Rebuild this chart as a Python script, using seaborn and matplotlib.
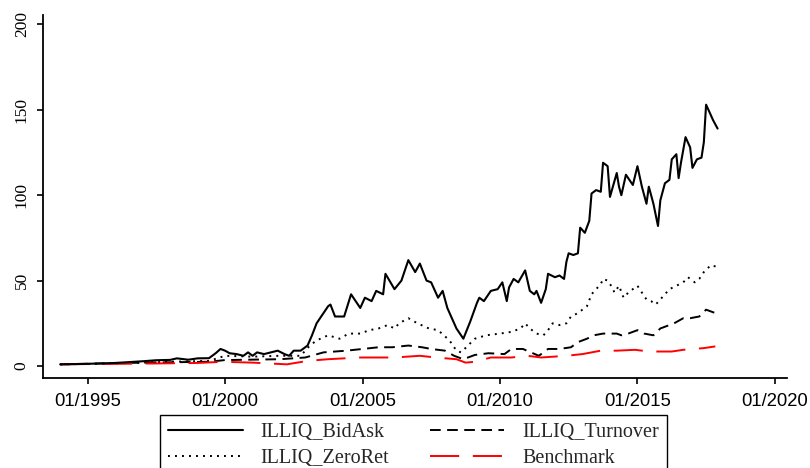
import matplotlib
matplotlib.use("Agg")
import matplotlib.pyplot as plt
import seaborn as sns
import pandas as pd

# ---------------- data ----------------
bidask_dates = ["1994-01", "1995-01", "1996-01", "1997-01", "1997-07", "1998-01", "1998-04",
                "1998-09", "1999-01", "1999-06", "1999-09", "1999-11", "2000-01", "2000-03",
                "2000-06", "2000-09", "2000-11", "2001-01", "2001-03", "2001-06", "2001-09",
                "2001-12", "2002-03", "2002-05", "2002-07", "2002-10", "2003-01", "2003-03",
                "2003-05", "2003-07", "2003-10", "2003-11", "2004-01", "2004-05", "2004-08",
                "2004-12", "2005-02", "2005-05", "2005-07", "2005-10", "2005-11", "2006-03",
                "2006-06", "2006-09", "2006-12", "2007-02", "2007-05", "2007-07", "2007-10",
                "2007-12", "2008-02", "2008-06", "2008-09", "2008-12", "2009-03", "2009-04",
                "2009-06", "2009-09", "2009-12", "2010-02", "2010-04", "2010-05", "2010-07",
                "2010-09", "2010-12", "2011-02", "2011-04", "2011-05", "2011-07", "2011-09",
                "2011-10", "2012-01", "2012-03", "2012-05", "2012-06", "2012-07", "2012-09",
                "2012-11", "2012-12", "2013-02", "2013-04", "2013-05", "2013-07", "2013-09",
                "2013-10", "2013-12", "2014-01", "2014-04", "2014-05", "2014-06", "2014-08",
                "2014-10", "2014-11", "2015-01", "2015-03", "2015-05", "2015-06", "2015-08",
                "2015-10", "2015-11", "2016-01", "2016-03", "2016-04", "2016-06", "2016-07",
                "2016-08", "2016-10", "2016-12", "2017-01", "2017-03", "2017-05", "2017-06",
                "2017-07", "2017-09", "2017-10", "2017-12"]
bidask_vals = [1.0, 1.3, 1.8, 2.8, 3.4, 3.6, 4.5,
               3.7, 4.5, 4.6, 7.6, 10.0, 9.0, 7.5,
               7.0, 6.0, 8.0, 6.0, 8.0, 7.0, 8.0,
               9.0, 7.0, 6.0, 9.0, 9.0, 12.0, 18.0,
               25.0, 29.0, 35.0, 36.0, 29.0, 29.0, 42.0,
               34.0, 40.0, 38.0, 44.0, 42.0, 54.0, 45.0,
               50.0, 62.0, 55.0, 60.0, 50.0, 49.0, 40.0,
               44.0, 34.0, 22.0, 16.0, 26.0, 37.0, 40.0,
               38.0, 44.0, 45.0, 49.0, 38.0, 46.0, 51.0,
               49.0, 56.0, 44.0, 42.0, 44.0, 37.0, 45.0,
               54.0, 52.0, 53.0, 51.0, 61.0, 66.0, 65.0,
               66.0, 81.0, 78.0, 85.0, 101.0, 103.0, 102.0,
               119.0, 117.0, 99.0, 113.0, 105.0, 100.0, 112.0,
               108.0, 106.0, 117.0, 105.0, 95.0, 105.0, 95.0,
               82.0, 97.0, 107.0, 109.0, 121.0, 124.0, 110.0,
               119.0, 134.0, 128.0, 116.0, 121.0, 122.0, 131.0,
               153.0, 147.0, 144.0, 139.0]

zeroret_dates = ["1994-01", "1996-01", "1998-01", "1999-06", "2000-01", "2001-01", "2002-01",
                 "2002-10", "2003-02", "2003-05", "2003-10", "2004-03", "2004-07", "2004-12",
                 "2005-04", "2005-08", "2005-12", "2006-03", "2006-05", "2006-09", "2007-01",
                 "2007-06", "2007-10", "2008-03", "2008-06", "2008-08", "2009-02", "2009-07",
                 "2010-01", "2010-06", "2010-10", "2010-12", "2011-02", "2011-05", "2011-08",
                 "2011-10", "2011-12", "2012-03", "2012-06", "2012-08", "2012-11", "2013-03",
                 "2013-05", "2013-07", "2013-09", "2013-10", "2013-12", "2014-02", "2014-03",
                 "2014-05", "2014-07", "2014-09", "2014-12", "2015-01", "2015-03", "2015-05",
                 "2015-07", "2015-09", "2015-11", "2016-01", "2016-03", "2016-06", "2016-09",
                 "2016-11", "2017-02", "2017-04", "2017-06", "2017-09", "2017-12"]
zeroret_vals = [1.0, 1.5, 2.5, 3.0, 6.0, 5.5, 6.0,
                6.0, 12.0, 15.0, 18.0, 16.0, 19.0, 19.0,
                21.0, 22.0, 24.0, 22.0, 25.0, 28.0, 25.0,
                22.0, 21.0, 15.0, 9.0, 8.0, 16.0, 18.0,
                19.0, 20.0, 22.0, 25.0, 22.0, 19.0, 18.0,
                21.0, 25.0, 24.0, 25.0, 29.0, 31.0, 35.0,
                42.0, 45.0, 48.0, 51.0, 50.0, 46.0, 43.0,
                47.0, 40.0, 43.0, 46.0, 47.0, 43.0, 39.0,
                38.0, 36.0, 39.0, 42.0, 45.0, 47.0, 49.0,
                52.0, 49.0, 51.0, 55.0, 59.0, 58.0]

turnover_dates = ["1994-01", "1997-01", "1999-06", "2000-01", "2002-01", "2002-12", "2003-08",
                  "2004-06", "2005-01", "2005-08", "2006-02", "2006-09", "2007-03", "2007-07",
                  "2008-01", "2008-05", "2008-09", "2009-02", "2009-08", "2010-03", "2010-06",
                  "2010-11", "2011-06", "2011-10", "2012-03", "2012-08", "2012-11", "2013-03",
                  "2013-06", "2013-10", "2014-04", "2014-06", "2014-09", "2015-01", "2015-04",
                  "2015-08", "2015-11", "2016-05", "2016-09", "2016-12", "2017-04", "2017-07",
                  "2017-11"]
turnover_vals = [1.0, 2.0, 2.5, 3.5, 4.0, 5.0, 8.0,
                 9.0, 10.0, 11.0, 11.0, 12.0, 11.0, 10.0,
                 9.0, 6.0, 4.0, 6.5, 7.5, 7.0, 10.0,
                 10.0, 6.0, 10.0, 10.0, 11.0, 14.0, 16.0,
                 18.0, 19.0, 19.0, 18.0, 19.0, 21.0, 19.0,
                 18.0, 22.0, 25.0, 28.0, 28.0, 29.0, 33.0,
                 31.0]

bench_dates = ["1994-01", "1996-01", "1997-06", "1999-01", "1999-12", "2001-01", "2002-04",
               "2003-01", "2003-10", "2004-12", "2006-03", "2007-02", "2007-09", "2008-06",
               "2008-10", "2009-02", "2009-09", "2010-06", "2011-01", "2011-07", "2012-06",
               "2013-01", "2013-09", "2014-04", "2014-12", "2015-06", "2016-04", "2016-09",
               "2017-06", "2017-11"]
bench_vals = [1.0, 1.3, 1.5, 1.8, 2.5, 2.0, 1.0,
              3.0, 4.0, 5.0, 5.0, 6.0, 5.0, 4.0,
              2.0, 2.5, 5.0, 5.0, 6.0, 5.0, 6.0,
              7.0, 9.0, 9.0, 9.5, 8.5, 8.5, 9.5,
              10.5, 11.5]

series_names = ["ILLIQ_BidAsk", "ILLIQ_ZeroRet", "ILLIQ_Turnover", "Benchmark"]
xtick_years = [1995, 2000, 2005, 2010, 2015, 2020]
xtick_labels = ["01/1995", "01/2000", "01/2005", "01/2010", "01/2015", "01/2020"]
ytick_vals = [0, 50, 100, 150, 200]

# ---------------- figure ----------------
sns.set_style("white")
plt.rcParams["font.family"] = ["Liberation Serif", "DejaVu Serif"]

fig = plt.figure(figsize=(8.10, 4.68), dpi=100)
ax = fig.add_axes([43 / 810, 1 - 378 / 468, (787 - 43) / 810, (378 - 15) / 468])

def frame(dates, vals):
    return pd.DataFrame({"date": pd.to_datetime(dates), "value": vals})

styles = [
    dict(color="black", lw=1.5, ls="-"),
    dict(color="black", lw=1.4, ls=(0, (1, 2.6))),
    dict(color="black", lw=1.4, ls=(0, (5.5, 3.3))),
    dict(color="#ff0000", lw=1.4, ls=(0, (15, 7))),
]
data = [(bidask_dates, bidask_vals), (zeroret_dates, zeroret_vals),
        (turnover_dates, turnover_vals), (bench_dates, bench_vals)]

handles = []
for (d, v), name, st in zip(data, series_names, styles):
    df = frame(d, v)
    sns.lineplot(data=df, x="date", y="value", ax=ax, color=st["color"],
                 linewidth=st["lw"], linestyle=st["ls"], label=name, legend=False)
    handles.append(ax.lines[-1])

handles[0].set_zorder(5)

ax.set_xlim(pd.Timestamp("1993-05-18"), pd.Timestamp("2020-06-10"))
ax.set_ylim(-7.0, 205.5)
ax.set_xticks(pd.to_datetime([f"{y}-01-01" for y in xtick_years]))
ax.set_xticklabels(xtick_labels, fontfamily="Liberation Sans", fontsize=13.3)
ax.set_yticks(ytick_vals)
ax.set_yticklabels([str(v) for v in ytick_vals], rotation=90, va="center",
                   fontfamily="Liberation Serif", fontsize=12.5)
ax.set_xlabel("")
ax.set_ylabel("")

for s in ["top", "right"]:
    ax.spines[s].set_visible(False)
for s in ["left", "bottom"]:
    ax.spines[s].set_color("black")
    ax.spines[s].set_linewidth(1.3)

ax.tick_params(axis="both", which="major", direction="out", length=4.5, width=1.2,
               color="black", labelcolor="black", bottom=True, left=True,
               top=False, right=False)
ax.tick_params(axis="x", pad=6.5)
ax.tick_params(axis="y", pad=5)
ax.grid(False)

leg = fig.legend(handles, series_names, ncol=2, loc="upper left",
                 bbox_to_anchor=(160 / 810, 1 - 415 / 468), borderaxespad=0,
                 frameon=True, fancybox=False, shadow=False, framealpha=1,
                 edgecolor="black", prop={"family": "Liberation Serif", "size": 14.5},
                 handlelength=3.7, handletextpad=0.9, columnspacing=2.0,
                 labelspacing=0.32, borderpad=0.4)
leg.get_frame().set_linewidth(1.0)

fig.savefig("out.png", dpi=100)
